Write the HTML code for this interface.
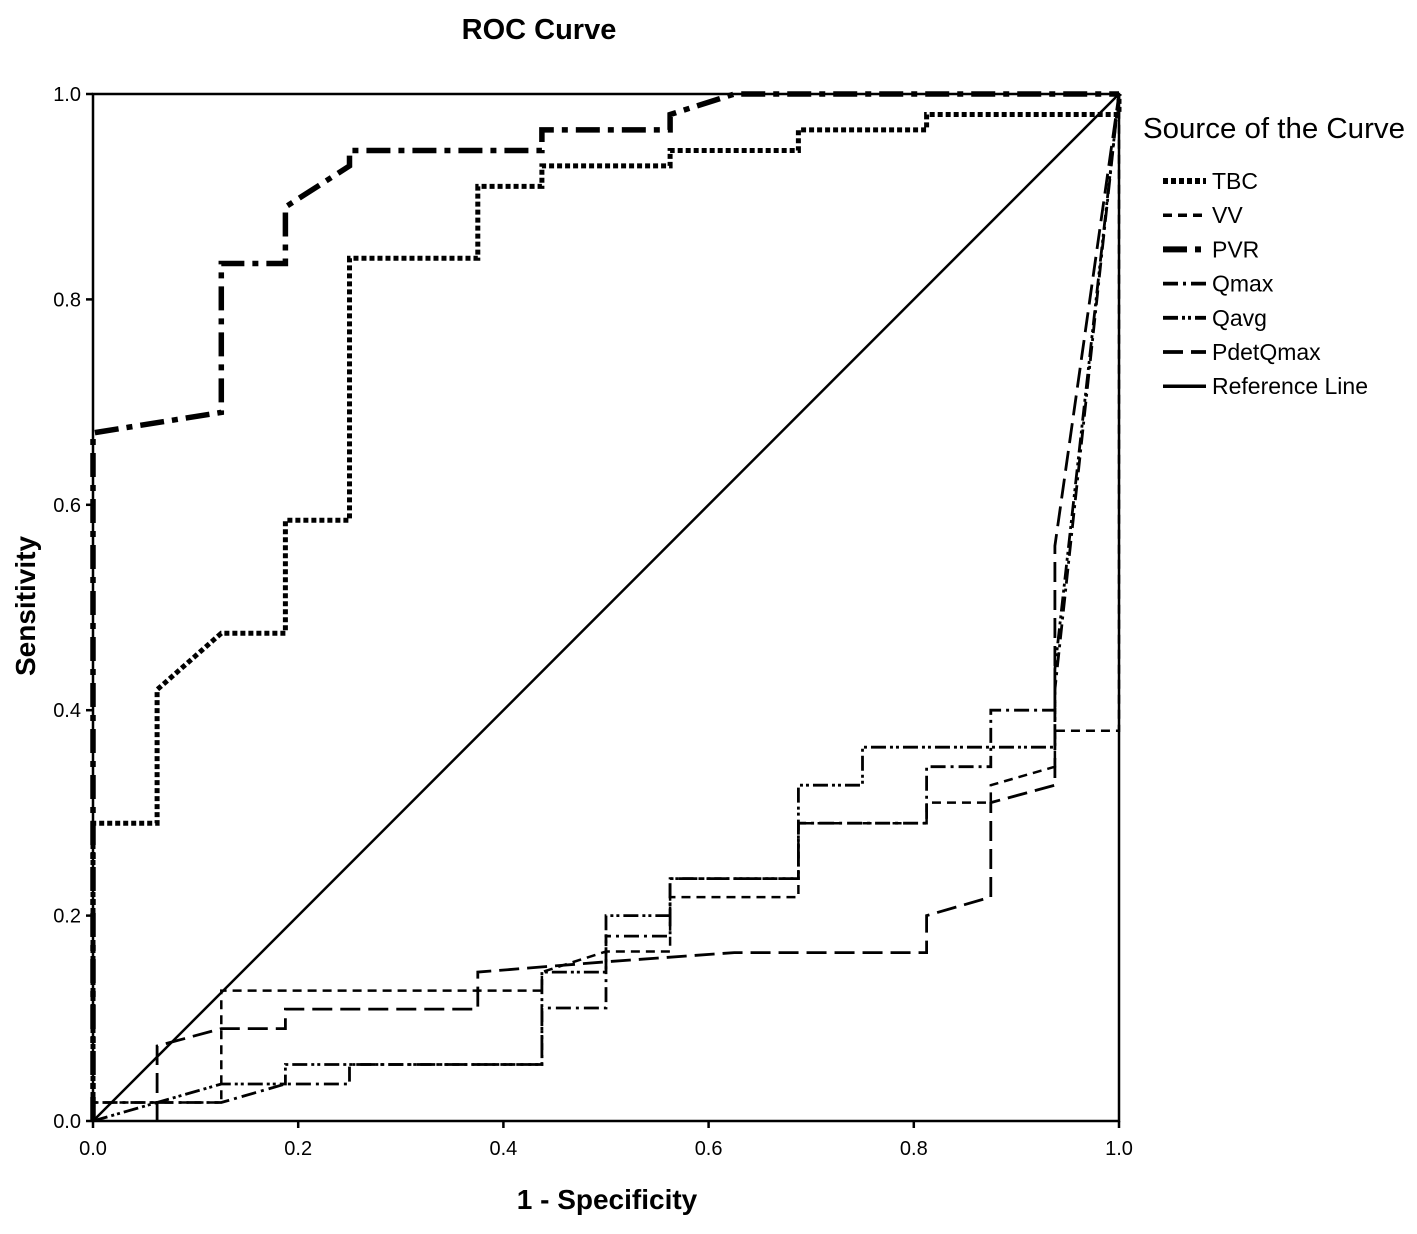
<!DOCTYPE html>
<html><head><meta charset="utf-8"><style>
body{margin:0;background:#fff}
svg{display:block;font-family:"Liberation Sans",Arial,sans-serif}
</style></head><body>
<svg id="chart" width="1417" height="1234" viewBox="0 0 1417 1234">
<text x="539" y="39" text-anchor="middle" font-size="29" font-weight="bold">ROC Curve</text>
<text x="607" y="1209" text-anchor="middle" font-size="28" font-weight="bold">1 - Specificity</text>
<text transform="translate(35,606) rotate(-90)" text-anchor="middle" font-size="28" font-weight="bold">Sensitivity</text>
<g id="plot"></g>
<g id="legend"></g>
</svg>
<script>
const ticks = [0, 0.2, 0.4, 0.6, 0.8, 1.0];
const tickLabels = ["0.0","0.2","0.4","0.6","0.8","1.0"];
const seriesNames = ["TBC","VV","PVR","Qmax","Qavg","PdetQmax","Reference Line"];
const tbcFpr = [0,0,0.0625,0.0625,0.125,0.1875,0.1875,0.25,0.25,0.375,0.375,0.4375,0.4375,0.5625,0.5625,0.6875,0.6875,0.8125,0.8125,1,1];
const tbcTpr = [0,0.29,0.29,0.42,0.475,0.475,0.585,0.585,0.84,0.84,0.91,0.91,0.93,0.93,0.945,0.945,0.965,0.965,0.98,0.98,1];
const vvFpr = [0,0,0.125,0.125,0.4375,0.4375,0.5,0.5625,0.5625,0.6875,0.6875,0.8125,0.8125,0.875,0.875,0.9375,0.9375,1,1];
const vvTpr = [0,0.018,0.018,0.127,0.127,0.145,0.165,0.165,0.218,0.218,0.29,0.29,0.31,0.31,0.327,0.345,0.38,0.38,1];
const pvrFpr = [0,0,0.125,0.125,0.1875,0.1875,0.25,0.25,0.4375,0.4375,0.5625,0.5625,0.625,1];
const pvrTpr = [0,0.67,0.69,0.835,0.835,0.89,0.93,0.945,0.945,0.965,0.965,0.98,1,1];
const qmaxFpr = [0,0,0.125,0.1875,0.25,0.25,0.4375,0.4375,0.5,0.5,0.5625,0.5625,0.6875,0.6875,0.8125,0.8125,0.875,0.875,0.9375,0.9375,1];
const qmaxTpr = [0,0.018,0.018,0.036,0.036,0.055,0.055,0.11,0.11,0.18,0.18,0.236,0.236,0.29,0.29,0.345,0.345,0.4,0.4,0.42,1];
const qavgFpr = [0,0.125,0.1875,0.1875,0.4375,0.4375,0.5,0.5,0.5625,0.5625,0.6875,0.6875,0.75,0.75,0.9375,0.9375,1];
const qavgTpr = [0,0.036,0.036,0.055,0.055,0.145,0.145,0.2,0.2,0.236,0.236,0.327,0.327,0.364,0.364,0.44,1];
const pdetFpr = [0.0625,0.0625,0.125,0.1875,0.1875,0.375,0.375,0.5,0.625,0.8125,0.8125,0.875,0.875,0.9375,0.9375,1];
const pdetTpr = [0,0.073,0.09,0.09,0.109,0.109,0.145,0.155,0.164,0.164,0.2,0.218,0.31,0.327,0.56,1];
const refFpr = [0,1];
const refTpr = [0,1];

const X0=93,X1=1119,Y0=1121,Y1=94;
const sx=v=>X0+v*(X1-X0), sy=v=>Y0-v*(Y0-Y1);
const NS="http://www.w3.org/2000/svg";
const plot=document.getElementById('plot'), legend=document.getElementById('legend');
function mk(tag,attrs,parent){const e=document.createElementNS(NS,tag);for(const k in attrs)e.setAttribute(k,attrs[k]);parent.appendChild(e);return e;}

const frame=mk('rect',{x:X0,y:Y1,width:X1-X0,height:Y0-Y1,fill:'none',stroke:'#000','stroke-width':2.5},plot);


ticks.forEach((t,i)=>{
  const tx=mk('line',{x1:sx(t),x2:sx(t),y1:Y0,y2:Y0+7,stroke:'#000','stroke-width':2.5},plot);
  
  
  const lx=mk('text',{x:sx(t),y:Y0+34,'text-anchor':'middle','font-size':20},plot);
  lx.textContent=tickLabels[i];
  
  
  const ty=mk('line',{x1:X0-7,x2:X0,y1:sy(t),y2:sy(t),stroke:'#000','stroke-width':2.5},plot);
  
  
  const ly=mk('text',{x:X0-12,y:sy(t)+7,'text-anchor':'end','font-size':20},plot);
  ly.textContent=tickLabels[i];
  
  
});

const series=[
  {f:tbcFpr,t:tbcTpr,w:5,d:'5,3'},
  {f:vvFpr,t:vvTpr,w:2.5,d:'9,6'},
  {f:pvrFpr,t:pvrTpr,w:5.5,d:'24,8,6,8'},
  {f:qmaxFpr,t:qmaxTpr,w:2.8,d:'15,5,3,5'},
  {f:qavgFpr,t:qavgTpr,w:2.8,d:'15,4,3,3,3,4'},
  {f:pdetFpr,t:pdetTpr,w:2.8,d:'20,8'},
  {f:refFpr,t:refTpr,w:2.5,d:'none'}
];
series.forEach((s,i)=>{
  const pts=s.f.map((v,j)=>sx(v).toFixed(1)+','+sy(s.t[j]).toFixed(1)).join(' ');
  const p=mk('polyline',{points:pts,fill:'none',stroke:'#000','stroke-width':s.w,'stroke-dasharray':s.d},plot);
  
  
});

const lt=mk('text',{x:1143,y:138,'font-size':29,textLength:262,lengthAdjust:'spacingAndGlyphs'},legend);
lt.textContent='Source of the Curve';


seriesNames.forEach((n,i)=>{
  const y=181+i*34.2;
  const s=series[i];
  const ln=mk('line',{x1:1163,x2:1206,y1:y,y2:y,stroke:'#000','stroke-width':Math.min(s.w+1,6),'stroke-dasharray':s.d},legend);
  
  
  const tx=mk('text',{x:1212,y:y+8,'font-size':23},legend);
  tx.textContent=n;
  
  
});
</script>
</body></html>
